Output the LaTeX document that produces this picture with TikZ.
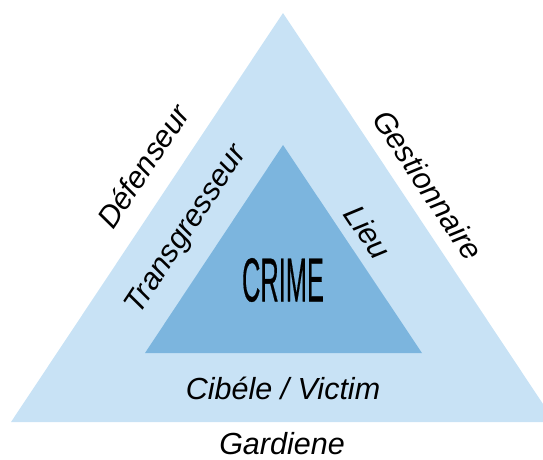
\documentclass[tikz,border=0pt]{standalone}
\usepackage{fontspec}
\setmainfont{Liberation Sans}
\newfontfamily\crimefont[FakeBold=0.6]{Liberation Sans}
\definecolor{outerblue}{HTML}{C8E2F5}
\definecolor{innerblue}{HTML}{7CB5DE}
\begin{document}
\begin{tikzpicture}[x=1pt,y=-1pt,
  lbl/.style={font=\fontsize{30.5}{34}\selectfont\itshape, inner sep=0pt, anchor=center}]
\useasboundingbox (0,0) rectangle (543,459);
\begin{scope}
\clip (0,0) rectangle (543,459);
\fill[outerblue] (283,13) -- (11,422) -- (555,422) -- cycle;
\end{scope}
\fill[innerblue] (283,145) -- (145,353) -- (422,353) -- cycle;
\node[inner sep=0pt] (crime) at (283,280) {\scalebox{0.41}[1]{\fontsize{62}{62}\crimefont CRIME}};
\node[lbl, rotate=56.4] (def) at (143,166) {Défenseur};
\node[lbl, rotate=-56.4] (gest) at (428,185) {Gestionnaire};
\node[lbl, rotate=56.4] (trans) at (187,230) {Transgresseur};
\node[lbl, rotate=-56.4] (lieu) at (368,232) {Lieu};
\node[lbl] (cib) at (283,388) {Cibéle / Victim};
\node[lbl] (gard) at (282,444) {Gardiene};
\end{tikzpicture}
\end{document}
